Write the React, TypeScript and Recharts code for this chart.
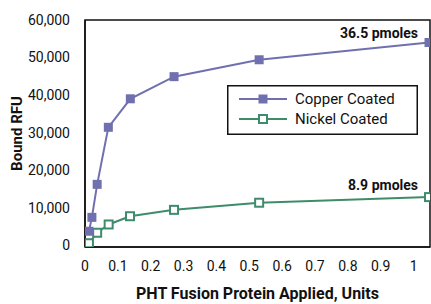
import React from "react"
import {
  LineChart,
  Line,
  XAxis,
  YAxis,
  ReferenceArea,
  ReferenceDot,
} from "recharts"

const COPPER_X = [0.012, 0.021, 0.037, 0.071, 0.138, 0.271, 0.53, 1.047]
const COPPER_Y = [3700, 7400, 16200, 31400, 39000, 44900, 49400, 54000]
const NICKEL_X = [0.012, 0.037, 0.072, 0.137, 0.271, 0.53, 1.047]
const NICKEL_Y = [500, 3300, 5500, 7700, 9400, 11300, 12800]

const X_TICKS = [0, 0.1, 0.2, 0.3, 0.4, 0.5, 0.6, 0.7, 0.8, 0.9, 1]
const Y_TICKS = [0, 10000, 20000, 30000, 40000, 50000, 60000]

const COPPER_LABEL = "36.5 pmoles"
const NICKEL_LABEL = "8.9 pmoles"

const COPPER = "#7070b0"
const NICKEL = "#3e8c6b"
const FONT = "'Liberation Sans Narrow', 'Roboto', sans-serif"

const copperData = COPPER_X.map((x, i) => ({ x, y: COPPER_Y[i] }))
const nickelData = NICKEL_X.map((x, i) => ({ x, y: NICKEL_Y[i] }))

const FilledSquare = (props: any) => {
  const { cx, cy } = props
  if (cx == null || cy == null) return null
  return <rect x={cx - 4.5} y={cy - 4.5} width={9} height={9} fill={COPPER} />
}

const OpenSquare = (props: any) => {
  const { cx, cy } = props
  if (cx == null || cy == null) return null
  return (
    <rect x={cx - 4} y={cy - 4} width={8} height={8} fill="#fff" stroke={NICKEL} strokeWidth={2} />
  )
}

const pointLabel = (text: string, dy: number) => (props: any) => {
  const vb = props.viewBox || {}
  const cx = (vb.x ?? 0) + (vb.width ?? 0) / 2
  const cy = (vb.y ?? 0) + (vb.height ?? 0) / 2
  return (
    <text
      x={cx - 11}
      y={cy - dy}
      textAnchor="end"
      dominantBaseline="central"
      fontFamily={FONT}
      fontWeight="bold"
      fontSize={14}
      fill="#111"
    >
      {text}
    </text>
  )
}

const LegendBox = () => {
  const rows = [
    { name: "Copper Coated", color: COPPER, open: false },
    { name: "Nickel Coated", color: NICKEL, open: true },
  ]
  return (
    <svg width={191} height={50} style={{ display: "block" }}>
      <rect x={0.75} y={0.75} width={189.5} height={48.5} fill="#fff" stroke="#111" strokeWidth={1.5} />
      {rows.map((r, i) => {
        const y = 14 + i * 20
        return (
          <g key={r.name}>
            <line x1={12} x2={60} y1={y} y2={y} stroke={r.color} strokeWidth={2} />
            {r.open ? (
              <rect x={32} y={y - 4} width={8} height={8} fill="#fff" stroke={r.color} strokeWidth={2} />
            ) : (
              <rect x={31.5} y={y - 4.5} width={9} height={9} fill={r.color} />
            )}
            <text
              x={68}
              y={y}
              dominantBaseline="central"
              fontFamily={FONT}
              fontSize={15}
              fill="#111"
            >
              {r.name}
            </text>
          </g>
        )
      })}
    </svg>
  )
}

export default function App() {
  return (
    <div style={{ position: "absolute", left: 0, top: 0, width: 431, height: 304, background: "#fff" }}>
      <LineChart
        width={431}
        height={304}
        margin={{ top: 20, right: 1, left: 0, bottom: 0 }}
      >
        <XAxis
          type="number"
          dataKey="x"
          domain={[0, 1.05]}
          ticks={X_TICKS}
          allowDataOverflow
          tickLine={false}
          axisLine={{ stroke: "#111", strokeWidth: 1.5 }}
          tick={{ fontSize: 14, fill: "#111", fontFamily: FONT }}
          tickMargin={8}
          height={57}
          label={{
            value: "PHT Fusion Protein Applied, Units",
            position: "insideBottom",
            offset: 5,
            style: { fontSize: 16, fontWeight: "bold", fill: "#111", fontFamily: FONT },
          }}
        />
        <YAxis
          type="number"
          dataKey="y"
          domain={[-500, 60000]}
          ticks={Y_TICKS}
          allowDataOverflow
          width={85}
          tickLine={false}
          axisLine={{ stroke: "#111", strokeWidth: 1.5 }}
          tick={{ fontSize: 14, fill: "#111", fontFamily: FONT }}
          tickMargin={9}
          tickFormatter={(v: number) => v.toLocaleString("en-US")}
          label={{
            value: "Bound RFU",
            angle: -90,
            position: "insideLeft",
            offset: 17,
            style: { textAnchor: "middle", fontSize: 15, fontWeight: "bold", fill: "#111", fontFamily: FONT },
          }}
        />
        <ReferenceArea
          x1={0}
          x2={1.05}
          y1={-500}
          y2={60000}
          fill="none"
          stroke="#111"
          strokeWidth={1.5}
        />
        <Line
          data={nickelData}
          dataKey="y"
          stroke={NICKEL}
          strokeWidth={2}
          dot={<OpenSquare />}
          isAnimationActive={false}
        />
        <Line
          data={copperData}
          dataKey="y"
          stroke={COPPER}
          strokeWidth={2}
          dot={<FilledSquare />}
          isAnimationActive={false}
        />
        <ReferenceDot
          x={COPPER_X[COPPER_X.length - 1]}
          y={COPPER_Y[COPPER_Y.length - 1]}
          r={0}
          fill="none"
          stroke="none"
          label={pointLabel(COPPER_LABEL, 10)}
        />
        <ReferenceDot
          x={NICKEL_X[NICKEL_X.length - 1]}
          y={NICKEL_Y[NICKEL_Y.length - 1]}
          r={0}
          fill="none"
          stroke="none"
          label={pointLabel(NICKEL_LABEL, 12)}
        />
      </LineChart>
      <div style={{ position: "absolute", left: 227, top: 85 }}>
        <LegendBox />
      </div>
    </div>
  )
}
